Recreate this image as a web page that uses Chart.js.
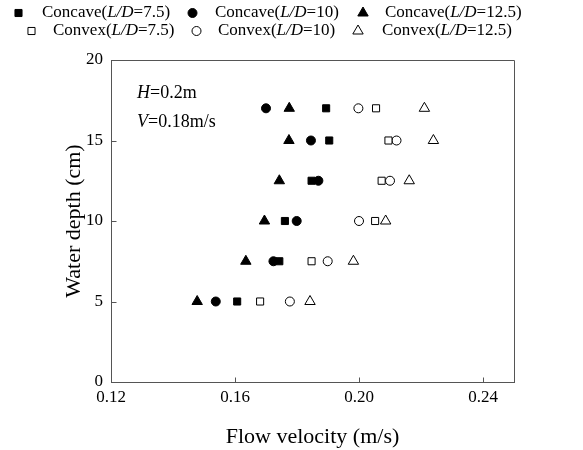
<!DOCTYPE html>
<html>
<head>
<meta charset="utf-8">
<title>Flow velocity vs water depth</title>
<script src="https://cdn.jsdelivr.net/npm/chart.js@4/dist/chart.umd.min.js"></script>
<style>
  html, body { margin: 0; padding: 0; background: #fff; }
  canvas { display: block; }
</style>
</head>
<body>
<canvas id="chart" width="583" height="450"></canvas>
<script>
// Water depth (cm) of each measuring point
const depths = [5, 7.5, 10, 12.5, 15, 17];

// Flow velocity (m/s) per series, same order as depths
const concave75 = [0.1607, 0.1743, 0.1761, 0.1847, 0.1904, 0.1894];
const concave10 = [0.1538, 0.1724, 0.1799, 0.1869, 0.1845, 0.1700];
const concave125 = [0.1478, 0.1635, 0.1695, 0.1743, 0.1774, 0.1775];
const convex75 = [0.1681, 0.1847, 0.2052, 0.2073, 0.2095, 0.2055];
const convex10 = [0.1777, 0.1899, 0.2000, 0.2100, 0.2121, 0.1998];
const convex125 = [0.1842, 0.1982, 0.2086, 0.2162, 0.2240, 0.2211];

const xTicks = [0.12, 0.16, 0.20, 0.24];
const yTicks = [0, 5, 10, 15, 20];
const shapes = ['Concave', 'Convex'];
const ratios = ['7.5', '10', '12.5'];

const FONT = "'Liberation Serif', 'Times New Roman', serif";
const AXIS = '#555';

function pts(xs) {
    return xs.map((x, i) => ({ x: x, y: depths[i] }));
}

function series(name, ratio, xs, style, radius, filled) {
    return {
        label: name + '(L/D=' + ratio + ')',
        data: pts(xs),
        pointStyle: style,
        pointRadius: radius,
        pointHoverRadius: radius,
        pointBackgroundColor: filled ? '#000' : '#fff',
        pointBorderColor: '#000',
        pointBorderWidth: 1,
        showLine: false
    };
}

const datasets = [
    series(shapes[0], ratios[0], concave75, 'rect', 5, true),
    series(shapes[0], ratios[1], concave10, 'circle', 4.5, true),
    series(shapes[0], ratios[2], concave125, 'triangle', 6, true),
    series(shapes[1], ratios[0], convex75, 'rect', 5, false),
    series(shapes[1], ratios[1], convex10, 'circle', 4.5, false),
    series(shapes[1], ratios[2], convex125, 'triangle', 6, false)
];

// text with some italic parts, drawn left to right
function drawRich(ctx, parts, x, y, size) {
    parts.forEach(p => {
        ctx.font = (p.it ? 'italic ' : '') + size + 'px ' + FONT;
        ctx.fillText(p.t, x, y);
        x += ctx.measureText(p.t).width;
    });
}

// legend spots: marker centre x, text left x, row centre y
const legendSpots = [
    { mx: 18.5, tx: 42, y: 13 }, { mx: 192.5, tx: 215, y: 13 }, { mx: 363, tx: 385, y: 13 },
    { mx: 31.5, tx: 53, y: 31 }, { mx: 196.5, tx: 218, y: 31 }, { mx: 358, tx: 382, y: 31 }
];

const extras = {
    id: 'extras',
    afterDraw(chart) {
        const ctx = chart.ctx;
        const a = chart.chartArea;
        const L = Math.round(a.left) + 0.5, R = Math.round(a.right) + 0.5;
        const T = Math.round(a.top) + 0.5, B = Math.round(a.bottom) + 0.5;
        ctx.save();
        // closing box on top and right
        ctx.strokeStyle = AXIS;
        ctx.lineWidth = 1;
        ctx.beginPath();
        ctx.moveTo(L, T);
        ctx.lineTo(R, T);
        ctx.lineTo(R, B);
        // inward tick marks
        chart.scales.x.ticks.forEach(t => {
            const px = Math.round(chart.scales.x.getPixelForValue(t.value)) + 0.5;
            ctx.moveTo(px, B);
            ctx.lineTo(px, B - 5);
        });
        chart.scales.y.ticks.forEach(t => {
            const py = Math.round(chart.scales.y.getPixelForValue(t.value)) + 0.5;
            ctx.moveTo(L, py);
            ctx.lineTo(L + 5, py);
        });
        ctx.stroke();

        // legend
        ctx.textBaseline = 'middle';
        datasets.forEach((ds, i) => {
            const s = legendSpots[i];
            ctx.fillStyle = ds.pointBackgroundColor;
            ctx.strokeStyle = '#000';
            ctx.lineWidth = 1;
            Chart.helpers.drawPoint(ctx, {
                pointStyle: ds.pointStyle,
                radius: ds.pointRadius,
                rotation: 0,
                borderWidth: 1
            }, s.mx, s.y);
            ctx.fillStyle = '#000';
            drawRich(ctx, [
                { t: shapes[i < 3 ? 0 : 1] + '(' },
                { t: 'L/D', it: true },
                { t: '=' + ratios[i % 3] + ')' }
            ], s.tx, s.y, 17);
        });

        // test conditions
        drawRich(ctx, [{ t: 'H', it: true }, { t: '=0.2m' }], a.left + 26, 93, 18);
        drawRich(ctx, [{ t: 'V', it: true }, { t: '=0.18m/s' }], a.left + 26, 122, 18);
        ctx.restore();
    }
};

new Chart(document.getElementById('chart'), {
    type: 'scatter',
    data: { datasets: datasets },
    plugins: [extras],
    options: {
        responsive: false,
        animation: false,
        devicePixelRatio: 1,
        layout: { padding: { top: 60, right: 69, bottom: 0, left: 60 } },
        plugins: {
            legend: { display: false },
            tooltip: { enabled: false }
        },
        scales: {
            x: {
                type: 'linear',
                min: 0.12,
                max: 0.25,
                afterBuildTicks: s => { s.ticks = xTicks.map(v => ({ value: v })); },
                afterFit: s => { s.height = 68; },
                grid: { display: false, drawTicks: false },
                border: { color: AXIS, width: 1 },
                ticks: {
                    color: '#000',
                    padding: 5,
                    font: { family: FONT, size: 17 },
                    callback: v => v.toFixed(2)
                },
                title: {
                    display: true,
                    text: 'Flow velocity (m/s)',
                    color: '#000',
                    font: { family: FONT, size: 22 },
                    padding: { top: 0, bottom: 0 }
                }
            },
            y: {
                min: 0,
                max: 20,
                afterBuildTicks: s => { s.ticks = yTicks.map(v => ({ value: v })); },
                afterFit: s => { s.width = 51; },
                grid: { display: false, drawTicks: false },
                border: { color: AXIS, width: 1 },
                ticks: {
                    color: '#000',
                    padding: 8,
                    font: { family: FONT, size: 17 }
                },
                title: {
                    display: true,
                    text: 'Water depth (cm)',
                    color: '#000',
                    font: { family: FONT, size: 22 },
                    padding: { top: 1, bottom: 0 }
                }
            }
        }
    }
});
</script>
</body>
</html>
